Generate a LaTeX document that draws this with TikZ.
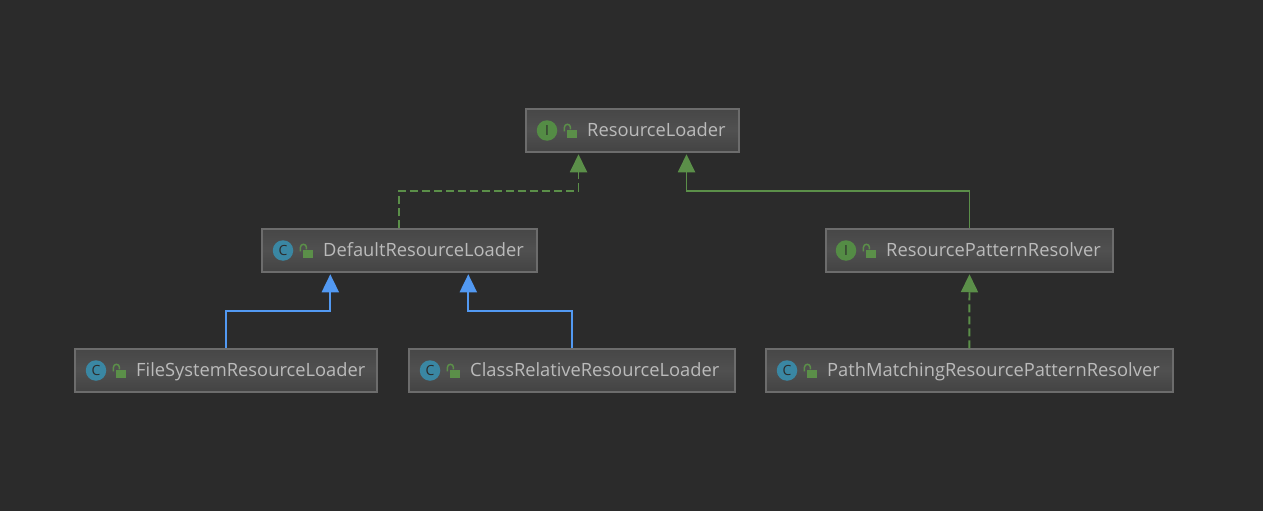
\documentclass[tikz,border=0pt]{standalone}
\usepackage{fontspec}
\setmainfont{Open Sans}
\usetikzlibrary{arrows.meta,calc,positioning}
\definecolor{bgdark}{HTML}{2B2B2B}
\definecolor{boxline}{HTML}{6C6C6C}
\definecolor{boxtop}{HTML}{474747}
\definecolor{boxbot}{HTML}{434343}
\definecolor{boxmid}{HTML}{505050}
\definecolor{labelgray}{HTML}{BBBBBB}
\definecolor{implgreen}{HTML}{5B8F49}
\definecolor{extblue}{HTML}{5299F2}
\definecolor{classteal}{HTML}{3A87A3}
\definecolor{ifacegreen}{HTML}{548C45}
\tikzset{
  umlbox/.style = {draw=boxline, line width=2pt, top color=boxtop, bottom color=boxbot, middle color=boxmid, minimum height=42.5pt, inner sep=0pt},
  umllabel/.style = {text=labelgray, font=\fontsize{18.3}{20}\selectfont, anchor=west, inner sep=0pt, text height=13pt, text depth=4pt},
  classicon/.style = {circle, fill=classteal, minimum size=20.5pt, inner sep=0pt, text=bgdark, font=\fontsize{14}{14}\selectfont},
  ifaceicon/.style = {circle, fill=ifacegreen, minimum size=20.5pt, inner sep=0pt, text=bgdark, font=\fontsize{14}{14}\selectfont},
  lockicon/.style = {fill=implgreen, minimum width=10pt, minimum height=8pt, inner sep=0pt},
  realize/.style = {draw=implgreen, line width=1.9pt, dash pattern=on 8pt off 4pt, -{Triangle[width=17pt,length=18pt,fill=implgreen,sep=0pt]}},
  inherit/.style = {draw=implgreen, line width=1.9pt, -{Triangle[width=17pt,length=18pt,fill=implgreen]}},
  extend/.style = {draw=extblue, line width=1.9pt, -{Triangle[width=17pt,length=18pt,fill=extblue]}}
}
\begin{document}
\begin{tikzpicture}[x=1pt,y=-1pt]
  \useasboundingbox[fill=bgdark] (0,0) rectangle (1263,511);

  % boxes
  \node[umlbox, minimum width=212.5pt] (loader) at (632.5,130.5) {};
  \node[umlbox, minimum width=274.5pt] (default) at (399.3,250.5) {};
  \node[umlbox, minimum width=287.5pt] (pattern) at (969.5,250.5) {};
  \node[umlbox, minimum width=302.5pt] (filesys) at (226.2,370.5) {};
  \node[umlbox, minimum width=325.5pt] (classrel) at (571.8,370.5) {};
  \node[umlbox, minimum width=406.5pt] (matching) at (969.3,370.5) {};

  % icons
  \node[ifaceicon] (loaderI) at (547,130.5) {I};
  \node[classicon] (defaultC) at (283,250.5) {C};
  \node[ifaceicon] (patternI) at (846,250.5) {I};
  \node[classicon] (filesysC) at (96,370.5) {C};
  \node[classicon] (classrelC) at (430,370.5) {C};
  \node[classicon] (matchingC) at (787,370.5) {C};

  % locks
  \foreach \icon in {loaderI,defaultC,patternI,filesysC,classrelC,matchingC} {
    \node[lockicon, right=9.5pt of \icon, yshift=-3pt] (\icon lock) {};
    \draw[implgreen, line width=1.5pt] (\icon lock.north west) ++(-2.5,2) -- ++(0,-4) arc (180:0:3pt) -- ++(0,2);
  }

  % labels
  \node[umllabel] (loadertext) at (587,131.5) {ResourceLoader};
  \node[umllabel] (defaulttext) at (323,251.5) {DefaultResourceLoader};
  \node[umllabel] (patterntext) at (886,251.5) {ResourcePatternResolver};
  \node[umllabel] (filesystext) at (136,371.5) {FileSystemResourceLoader};
  \node[umllabel] (classreltext) at (470,371.5) {ClassRelativeResourceLoader};
  \node[umllabel] (matchingtext) at (827,371.5) {PathMatchingResourcePatternResolver};

  % connectors
  \draw[realize] (default.north) -- ++(0,-37.5) -| ([xshift=-54pt,yshift=-1.5pt]loader.south);
  \draw[inherit] (pattern.north) -- ++(0,-37.5) -| ([xshift=54pt,yshift=-1.5pt]loader.south);
  \draw[extend] (filesys.north) -- ++(0,-37.5) -| ([xshift=-69pt,yshift=-1.5pt]default.south);
  \draw[extend] (classrel.north) -- ++(0,-37.5) -| ([xshift=69pt,yshift=-1.5pt]default.south);
  \draw[realize] (matching.north) -- ([yshift=-1.5pt]pattern.south);
\end{tikzpicture}
\end{document}
